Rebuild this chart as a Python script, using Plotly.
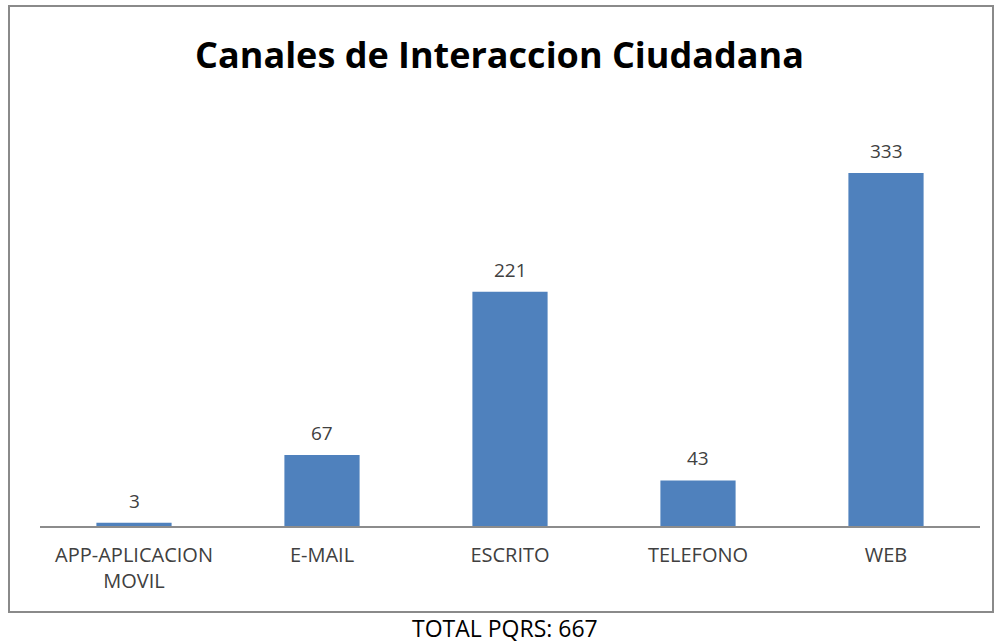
import plotly.graph_objects as go

categories = ["APP-APLICACION<br>MOVIL", "E-MAIL", "ESCRITO", "TELEFONO", "WEB"]
values = [3, 67, 221, 43, 333]
title_text = "Canales de Interaccion Ciudadana"
total_text = "TOTAL PQRS: 667"

fig = go.Figure(go.Bar(
    x=categories, y=values,
    marker=dict(color="#4F81BD", line=dict(width=0)),
    width=0.4,
    hoverinfo="skip",
))

for c, v in zip(categories, values):
    fig.add_annotation(x=c, y=v, text=str(v), showarrow=False,
                       xanchor="center", yanchor="middle", yshift=22,
                       font=dict(family="Open Sans", size=19, color="#404040"))

fig.update_layout(
    width=999, height=644,
    margin=dict(l=40, r=19, t=102, b=118),
    paper_bgcolor="white", plot_bgcolor="white",
    showlegend=False,
    title=dict(text="<b>" + title_text + "</b>", x=0.5, xanchor="center",
               y=1 - 55 / 644, yanchor="middle",
               font=dict(family="Open Sans", size=36, color="#000000")),
    xaxis=dict(showline=True, linecolor="#8c8c8c", linewidth=1.5,
               ticks="outside", ticklen=10, tickcolor="rgba(0,0,0,0)",
               tickfont=dict(family="Open Sans", size=20, color="#404040"),
               showgrid=False, zeroline=False),
    yaxis=dict(range=[0, 400], visible=False, showgrid=False, zeroline=False),
    bargap=0.6,
)

fig.add_shape(type="rect", xref="paper", yref="paper",
              x0=(9 - 40) / 940, x1=(993 - 40) / 940,
              y0=(526 - 612) / 424, y1=(526 - 6) / 424,
              line=dict(color="#8a8a8a", width=2), fillcolor="rgba(0,0,0,0)",
              layer="below")

fig.add_annotation(text=total_text, xref="paper", yref="paper",
                   x=(505 - 40) / 940, y=(526 - 628) / 424,
                   xanchor="center", yanchor="middle", showarrow=False,
                   font=dict(family="Open Sans", size=23, color="#000000"))

fig.write_html("out.html", config={"displayModeBar": False},
               post_script="document.body.style.margin='0';document.body.style.padding='0';")
